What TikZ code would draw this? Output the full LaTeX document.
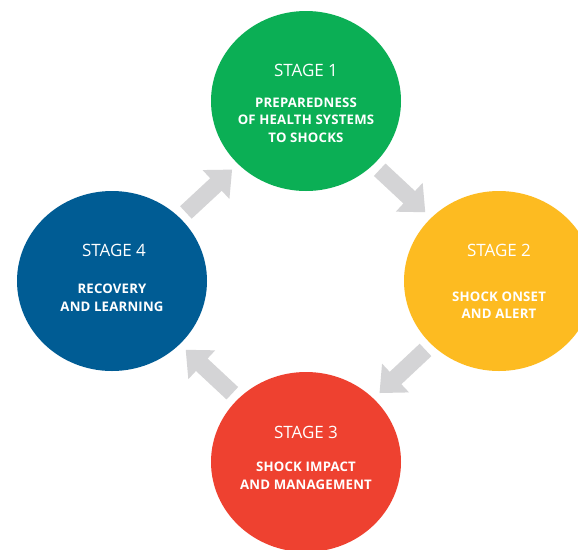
\documentclass[tikz,border=0pt]{standalone}
\usepackage{fontspec}
\setmainfont{Open Sans}
\usetikzlibrary{shapes.geometric,arrows.meta,calc}
\definecolor{cgreen}{HTML}{0BAF55}
\definecolor{cyellow}{HTML}{FDBB21}
\definecolor{cblue}{HTML}{005C94}
\definecolor{cred}{HTML}{EE4130}
\definecolor{cgrey}{HTML}{D4D4D6}
\begin{document}
\begin{tikzpicture}[x=1pt,y=-1pt,
  stagecirc/.style={ellipse,minimum width=190pt,minimum height=180pt,inner sep=0pt},
  stagetitle/.style={text=white,font=\fontsize{17}{20}\selectfont,inner sep=0pt},
  stagetext/.style={text=white,font=\fontsize{13.2}{17.5}\selectfont\bfseries\addfontfeature{LetterSpace=1.5},align=center,inner sep=0pt},
  flow/.style={draw=cgrey,line width=17pt,-{Triangle[width=38pt,length=22pt]},shorten <=8pt,shorten >=8pt}]
\useasboundingbox[fill=white] (0,0) rectangle (578,549);
\node[stagecirc,fill=cgreen]  (s1) at (306,101) {};
\node[stagecirc,fill=cyellow] (s2) at (499,281) {};
\node[stagecirc,fill=cred]    (s3) at (306,462) {};
\node[stagecirc,fill=cblue]   (s4) at (112,281) {};
\node[stagetitle] (t1) at ($(s1.center)+(0,-31)$) {STAGE 1};
\node[stagetext]  (d1) at ($(s1.center)+(0,19)$) {PREPAREDNESS\\OF HEALTH SYSTEMS\\TO SHOCKS};
\node[stagetitle] (t2) at ($(s2.center)+(0,-31)$) {STAGE 2};
\node[stagetext]  (d2) at ($(s2.center)+(0,24)$) {SHOCK ONSET\\AND ALERT};
\node[stagetitle] (t3) at ($(s3.center)+(0,-30)$) {STAGE 3};
\node[stagetext]  (d3) at ($(s3.center)+(0,14)$) {SHOCK IMPACT\\AND MANAGEMENT};
\node[stagetitle] (t4) at ($(s4.center)+(2,-31)$) {STAGE 4};
\node[stagetext]  (d4) at ($(s4.center)+(0,17)$) {RECOVERY\\AND LEARNING};
\draw[flow] (s1) -- (s2);
\draw[flow] (s2) -- (s3);
\draw[flow] (s3) -- (s4);
\draw[flow] (s4) -- (s1);
\end{tikzpicture}
\end{document}
